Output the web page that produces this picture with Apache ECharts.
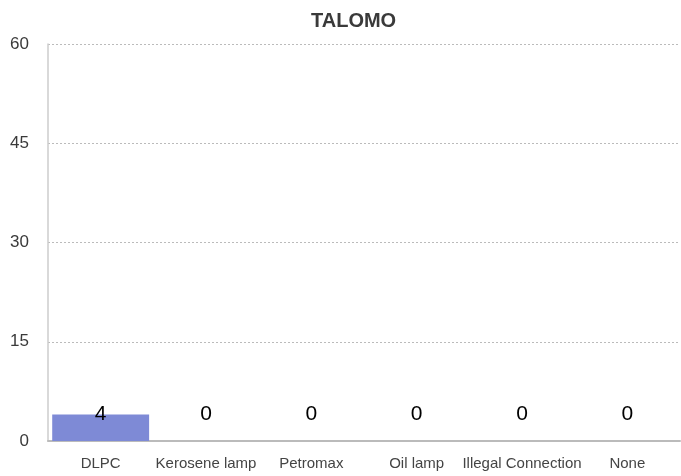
<!DOCTYPE html>
<html>
<head>
<meta charset="utf-8">
<script src="https://cdn.jsdelivr.net/npm/echarts@6/dist/echarts.min.js"></script>
<style>
  html, body { margin: 0; padding: 0; background: #fff; }
  #chart { width: 681px; height: 476px; }
</style>
</head>
<body>
<div id="chart"></div>
<script>
// Light sources reported in Talomo
const categories = ['DLPC', 'Kerosene lamp', 'Petromax', 'Oil lamp', 'Illegal Connection', 'None'];
const counts = [4, 0, 0, 0, 0, 0];
const yTicks = [0, 15, 30, 45, 60];

const chart = echarts.init(document.getElementById('chart'), null, { renderer: 'canvas' });
const font = '"Liberation Sans", Arial, Helvetica, sans-serif';

chart.setOption({
  animation: false,
  textStyle: { fontFamily: font },
  title: {
    text: 'TALOMO',
    left: 311,
    top: 11,
    padding: 0,
    textStyle: { fontSize: 20, fontWeight: 'bold', color: '#3a3a3a', fontFamily: font }
  },
  grid: { left: 48, right: 1, top: 44, bottom: 35, containLabel: false },
  xAxis: {
    type: 'category',
    data: categories,
    axisLine: { show: true, lineStyle: { color: '#bbb', width: 2 } },
    axisTick: { show: false },
    axisLabel: { color: '#444', fontSize: 15, margin: 15, interval: 0 },
    splitLine: { show: false }
  },
  yAxis: {
    type: 'value',
    min: yTicks[0],
    max: yTicks[yTicks.length - 1],
    interval: yTicks[1] - yTicks[0],
    axisLine: { show: true, lineStyle: { color: '#ccc', width: 1.5 } },
    axisTick: { show: false },
    axisLabel: { color: '#3a3a3a', fontSize: 17, margin: 19 },
    splitLine: { show: true, lineStyle: { color: '#bbb', type: [2, 2], width: 1 } }
  },
  series: [{
    type: 'bar',
    data: counts,
    barWidth: '92%',
    itemStyle: { color: '#7e8ad6' },
    label: {
      show: true,
      position: 'insideBottom',
      distance: 16,
      color: '#000',
      fontSize: 21,
      fontFamily: font
    }
  }]
});
</script>
</body>
</html>
